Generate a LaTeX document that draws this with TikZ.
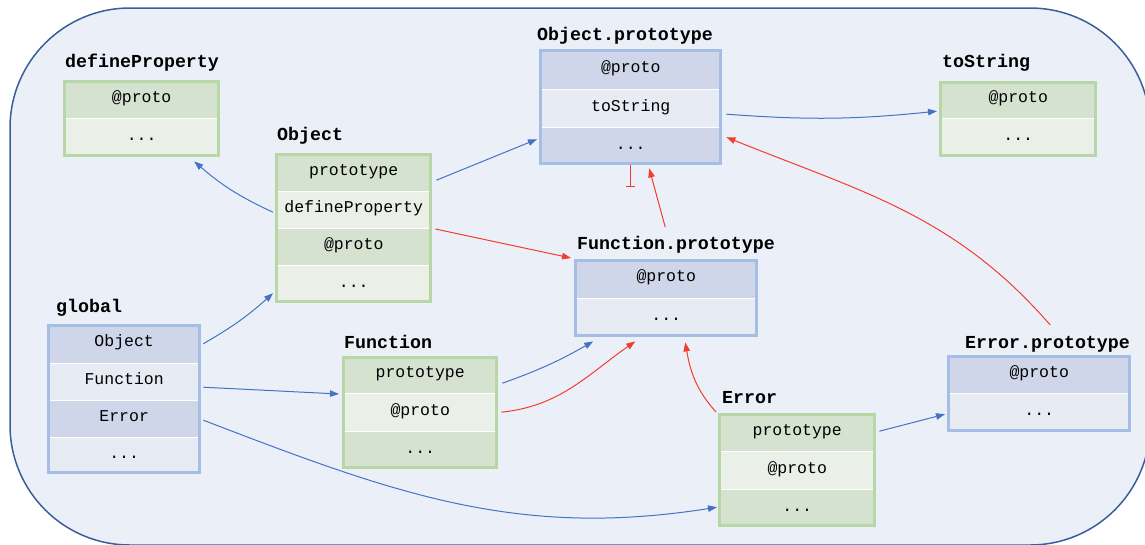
\documentclass[tikz,border=0pt]{standalone}
\usepackage{fontspec}
\setmonofont{Liberation Mono}
\usetikzlibrary{arrows.meta}

\definecolor{bgfill}{HTML}{EBF0F8}
\definecolor{bgline}{HTML}{3B5E9B}
\definecolor{bframe}{HTML}{A4BEE4}
\definecolor{bdark}{HTML}{CFD6E9}
\definecolor{blight}{HTML}{E7EBF4}
\definecolor{gframe}{HTML}{B8D7A7}
\definecolor{gdark}{HTML}{D6E2D0}
\definecolor{glight}{HTML}{EAF0E8}
\definecolor{linkblue}{HTML}{4472C4}
\definecolor{linkred}{HTML}{F43B2E}

% one row of an object table: name, x, top y, width, height, fill, text
\newcommand\cellrow[7]{\node[cell,fill=#6,minimum width=#4pt,minimum height=#5pt] (#1) at (#2,#3) {#7};}
% outline round the rows from #2 (first) to #3 (last)
\newcommand\frameof[3]{\draw[#1] ([shift={(1.5,1.5)}]#2.north west) rectangle ([shift={(-1.5,-1.5)}]#3.south east);}
% white rule under a row
\newcommand\rowsep[1]{\draw[sepline] (#1.south west) -- (#1.south east);}

\tikzset{
  cell/.style={anchor=north west, inner sep=0pt, text height=8pt, text depth=2pt,
    font=\fontsize{16.5pt}{18pt}\selectfont\ttfamily},
  title/.style={anchor=base west, inner sep=0pt,
    font=\fontsize{18.3pt}{20pt}\selectfont\ttfamily\bfseries},
  sepline/.style={draw=white, line width=1.5pt},
  bluebox/.style={draw=bframe, line width=3pt},
  greenbox/.style={draw=gframe, line width=3pt},
  bl/.style={draw=linkblue, line width=1pt, -{Triangle[length=9pt,width=6.5pt]}},
  rd/.style={draw=linkred, line width=1pt, -{Triangle[length=9pt,width=6.5pt]}},
}

\begin{document}
\begin{tikzpicture}[x=1pt, y=-1pt]
\useasboundingbox (0,0) rectangle (1145,544);
\begin{scope}
  \clip (0,0) rectangle (1145,544);
  \draw[fill=bgfill, draw=bgline, line width=1.5pt, rounded corners=120pt]
    (10,8) rectangle (1150,545);
\end{scope}

% defineProperty
\node[title] (dp-t) at (65,67) {defineProperty};
\cellrow{dp1}{63}{80}{157}{38}{gdark}{@proto}
\cellrow{dp2}{63}{118}{157}{39}{glight}{...}
\rowsep{dp1}
\frameof{greenbox}{dp1}{dp2}

% Object
\node[title] (obj-t) at (277,140) {Object};
\cellrow{obj1}{275}{153}{157}{38}{gdark}{prototype}
\cellrow{obj2}{275}{191}{157}{37}{glight}{defineProperty}
\cellrow{obj3}{275}{228}{157}{37}{gdark}{@proto}
\cellrow{obj4}{275}{265}{157}{38}{glight}{...}
\rowsep{obj1}\rowsep{obj2}\rowsep{obj3}
\frameof{greenbox}{obj1}{obj4}

% Object.prototype
\node[title] (op-t) at (537,40) {Object.prototype};
\cellrow{op1}{539}{49}{183}{40}{bdark}{@proto}
\cellrow{op2}{539}{89}{183}{38}{blight}{toString}
\cellrow{op3}{539}{127}{183}{38}{bdark}{...}
\rowsep{op1}\rowsep{op2}
\frameof{bluebox}{op1}{op3}

% toString
\node[title] (ts-t) at (942,67) {toString};
\cellrow{ts1}{939}{81}{158}{37}{gdark}{@proto}
\cellrow{ts2}{939}{118}{158}{39}{glight}{...}
\rowsep{ts1}
\frameof{greenbox}{ts1}{ts2}

% Function.prototype
\node[title] (fp-t) at (577,249) {Function.prototype};
\cellrow{fp1}{574}{259}{184}{39}{bdark}{@proto}
\cellrow{fp2}{574}{298}{184}{39}{blight}{...}
\rowsep{fp1}
\frameof{bluebox}{fp1}{fp2}

% global
\node[title] (gl-t) at (56,312) {global};
\cellrow{gl1}{47}{324}{154}{39}{bdark}{Object}
\cellrow{gl2}{47}{363}{154}{37}{blight}{Function}
\cellrow{gl3}{47}{400}{154}{37}{bdark}{Error}
\cellrow{gl4}{47}{437}{154}{37}{blight}{...}
\rowsep{gl1}\rowsep{gl2}\rowsep{gl3}
\frameof{bluebox}{gl1}{gl4}

% Function
\node[title] (fn-t) at (344,348) {Function};
\cellrow{fn1}{342}{356}{156}{37}{gdark}{prototype}
\cellrow{fn2}{342}{393}{156}{38}{glight}{@proto}
\cellrow{fn3}{342}{431}{156}{38}{gdark}{...}
\rowsep{fn1}\rowsep{fn2}
\frameof{greenbox}{fn1}{fn3}

% Error
\node[title] (er-t) at (722,403) {Error};
\cellrow{er1}{718}{413}{158}{38}{gdark}{prototype}
\cellrow{er2}{718}{451}{158}{38}{glight}{@proto}
\cellrow{er3}{718}{489}{158}{38}{gdark}{...}
\rowsep{er1}\rowsep{er2}
\frameof{greenbox}{er1}{er3}

% Error.prototype
\node[title] (ep-t) at (965,348) {Error.prototype};
\cellrow{ep1}{947}{355}{184}{38}{bdark}{@proto}
\cellrow{ep2}{947}{393}{184}{39}{blight}{...}
\rowsep{ep1}
\frameof{bluebox}{ep1}{ep2}

% property references
\draw[bl] ([shift={(4,8)}]obj1.east) -- ([shift={(-2,-7)}]op3.west);
\draw[bl] ([shift={(-2,2.5)}]obj2.west) to[bend left=8] ([shift={(52.5,4)}]dp2.south);
\draw[bl] ([shift={(2,0)}]gl1.east) to[bend right=6] ([shift={(-2,9)}]obj4.west);
\draw[bl] ([shift={(2,5.5)}]gl2.east) -- ([shift={(-3,1)}]fn2.north west);
\draw[bl] ([shift={(2,1.5)}]gl3.east) to[out=-21,in=189] ([shift={(-1,-1)}]er3.west);
\draw[bl] ([shift={(4,8.5)}]fn1.east) to[bend right=5] ([shift={(-73,4)}]fp2.south);
\draw[bl] ([shift={(4,6)}]op2.east) to[bend right=5] ([shift={(-2,11.5)}]ts1.west);
\draw[bl] ([shift={(3,-1)}]er1.east) -- ([shift={(-2,1.5)}]ep2.west);

% prototype chain
\draw[rd] ([shift={(3,1)}]obj3.north east) -- ([shift={(-3,-1)}]fp1.north west);
\draw[rd] ([shift={(-1,-32)}]fp1.north) -- ([shift={(18.5,3)}]op3.south);
\coordinate (opnull) at ([shift={(0,22)}]op3.south);
\draw[draw=linkred, line width=1pt, -{Bar[width=9pt]}] (op3.south) -- (opnull);
\draw[rd] ([shift={(3,0)}]fn2.east) to[out=6,in=215] ([shift={(-31,4)}]fp2.south);
\draw[rd] ([shift={(-2,-1)}]er1.north west) to[out=132,in=280] ([shift={(19,5)}]fp2.south);
\draw[rd] ([shift={(11,-30)}]ep1.north) to[out=131,in=-22] ([shift={(4,-9)}]op3.east);
\end{tikzpicture}
\end{document}
